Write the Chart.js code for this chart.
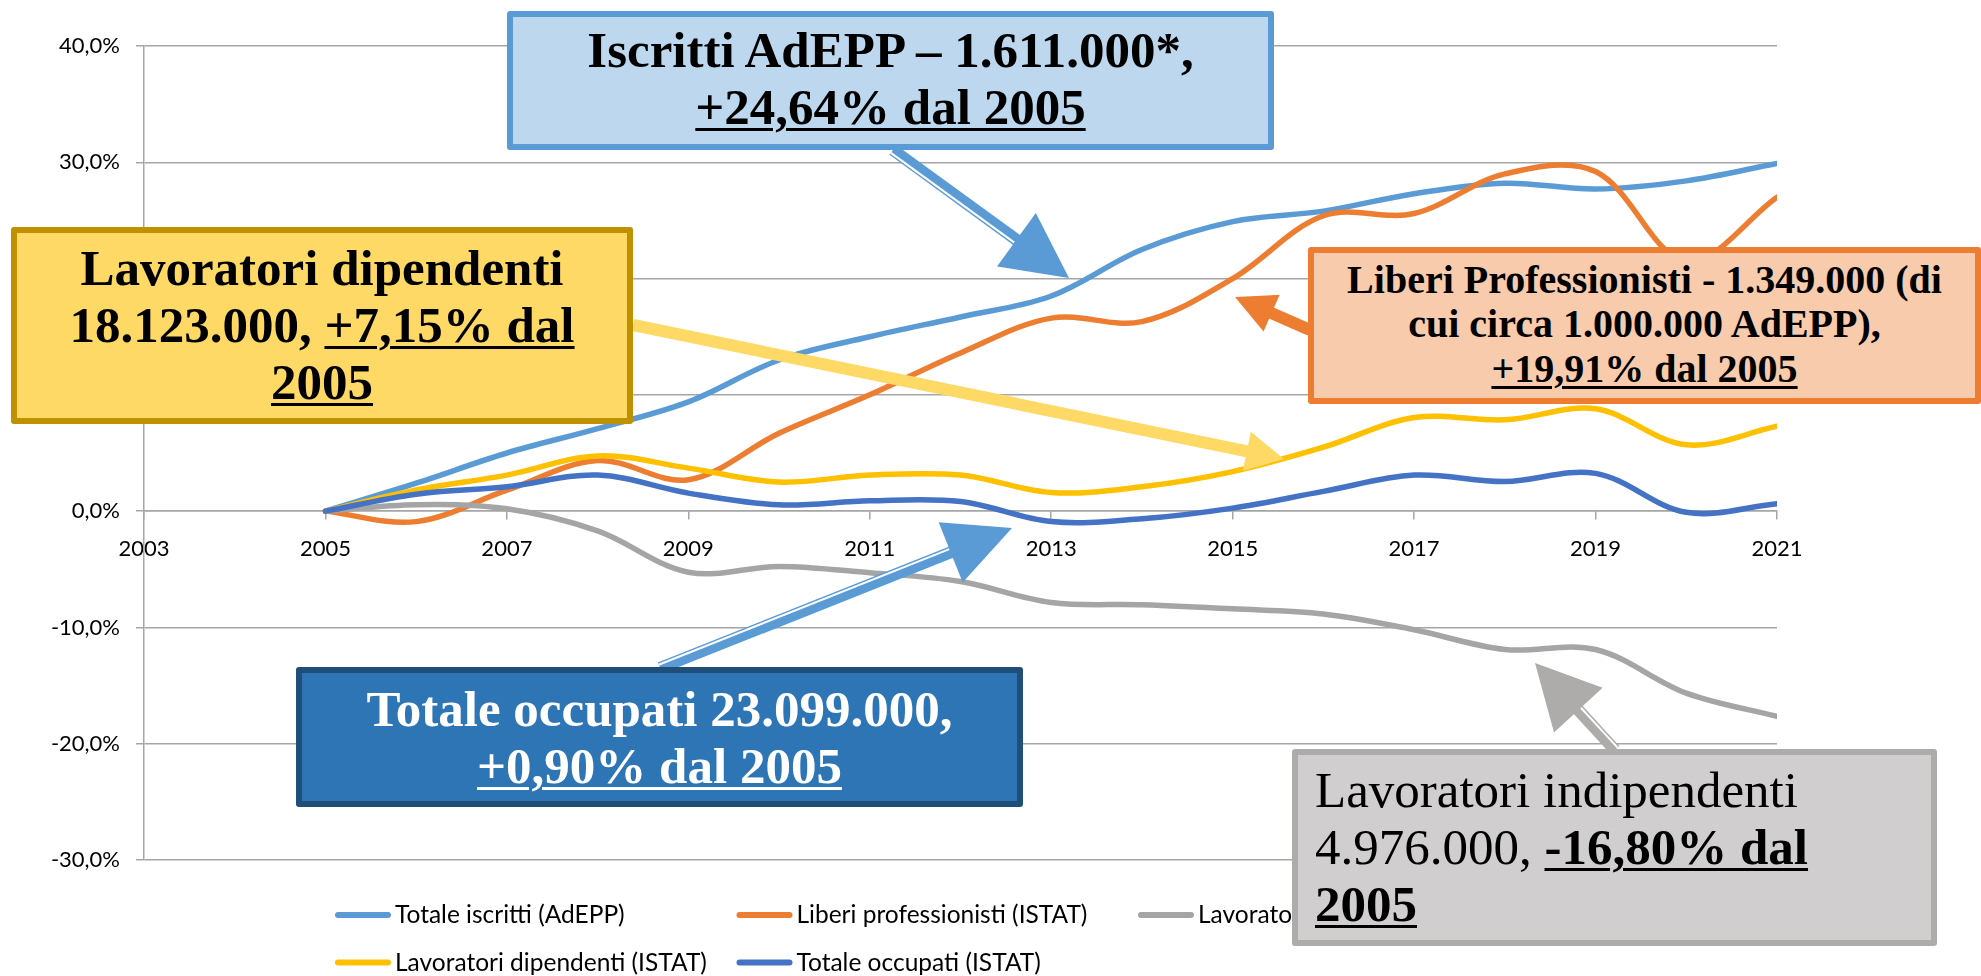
<!DOCTYPE html>
<html>
<head>
<meta charset="utf-8">
<script src="https://cdn.jsdelivr.net/npm/chart.js@4.4.1/dist/chart.umd.min.js"></script>
<style>
html,body{margin:0;padding:0;background:#fff;overflow:hidden;}
#wrap{position:relative;width:1981px;height:976px;}
#c{position:absolute;left:0;top:0;}
#arrows{position:absolute;left:0;top:0;}
.box{position:absolute;box-sizing:border-box;border:6px solid;border-radius:3px;
  font-family:"Liberation Serif","Times New Roman",serif;font-weight:bold;color:#000;
  white-space:nowrap;text-align:center;font-size:51px;line-height:57px;}
.box u{text-decoration-thickness:3px;text-underline-offset:4px;}
#b1{left:507px;top:11px;width:767px;height:139px;background:#BDD7EE;border-color:#5B9BD5;padding-top:5px;}
#b2{left:11px;top:227px;width:622px;height:197px;background:#FFD966;border-color:#BF9000;padding-top:7px;}
#b3{left:1308px;top:247px;width:673px;height:157px;background:#F8CBAD;border-color:#ED7D31;padding-top:5px;font-size:40px;line-height:44.3px;}
#b4{left:296px;top:667px;width:727px;height:140px;background:#2E75B6;border-color:#1F4E79;padding-top:8px;color:#fff;}
#b5{left:1292px;top:749px;width:645px;height:197px;background:#D0CECE;border-color:#AEABAB;padding-top:7px;padding-left:17px;text-align:left;}
#b5 .r{font-weight:normal;}
</style>
</head>
<body>
<div id="wrap">
  <canvas id="c" width="1981" height="976"></canvas>
  <svg id="arrows" width="1981" height="976" xmlns="http://www.w3.org/2000/svg"></svg>
  <div class="box" id="b1">Iscritti AdEPP – 1.611.000*,<br><u>+24,64% dal 2005</u></div>
  <div class="box" id="b2">Lavoratori dipendenti<br>18.123.000, <u>+7,15% dal</u><br><u>2005</u></div>
  <div class="box" id="b3">Liberi Professionisti - 1.349.000 (di<br>cui circa 1.000.000 AdEPP),<br><u>+19,91% dal 2005</u></div>
  <div class="box" id="b4">Totale occupati 23.099.000,<br><u>+0,90% dal 2005</u></div>
  <div class="box" id="b5"><span class="r">Lavoratori indipendenti</span><br><span class="r">4.976.000, </span><u>-16,80% dal</u><br><u>2005</u></div>
</div>
<script>
// ---- DATA ----
const years = [2005, 2006, 2007, 2008, 2009, 2010, 2011, 2012, 2013, 2014, 2015, 2016, 2017, 2018, 2019, 2020, 2021];
const seriesNames = [
  'Totale iscritti (AdEPP)',
  'Liberi professionisti (ISTAT)',
  'Lavoratori indipendenti (ISTAT)',
  'Lavoratori dipendenti (ISTAT)',
  'Totale occupati (ISTAT)'
];
const totaleIscritti = [0, 2.4, 5.0, 7.1, 9.4, 13.0, 15.0, 16.7, 18.5, 22.5, 24.9, 25.8, 27.3, 28.2, 27.7, 28.4, 29.9];
const liberiProfessionisti = [0, -0.9, 1.8, 4.35, 2.7, 6.7, 10.0, 13.6, 16.6, 16.3, 20.0, 25.4, 25.6, 29.0, 29.2, 21.5, 27.0];
const lavoratoriIndipendenti = [0, 0.55, 0.2, -1.7, -5.25, -4.75, -5.3, -6.05, -7.85, -8.05, -8.4, -8.85, -10.2, -11.9, -11.9, -15.65, -17.65];
const lavoratoriDipendenti = [0, 1.83, 3.1, 4.75, 3.7, 2.5, 3.1, 3.1, 1.6, 2.1, 3.4, 5.5, 8.05, 7.85, 8.8, 5.7, 7.3];
const totaleOccupati = [0, 1.46, 2.1, 3.1, 1.55, 0.54, 0.89, 0.83, -0.9, -0.66, 0.26, 1.7, 3.1, 2.55, 3.25, -0.1, 0.63];
const xTickMin = 2003, xTickMax = 2021, xTickStep = 2;
const yTickMin = -30, yTickMax = 40, yTickStep = 10;

const seriesValues = [totaleIscritti, liberiProfessionisti, lavoratoriIndipendenti, lavoratoriDipendenti, totaleOccupati];
const seriesColors = ['#5B9BD5', '#ED7D31', '#A5A5A5', '#FFC000', '#4472C4'];

const TICK_FONT = { family: 'Lato', size: 22 };
const GRID = '#A6A6A6';

const excelLegend = {
  id: 'excelLegend',
  afterDraw(chart) {
    const ctx = chart.ctx;
    ctx.save();
    ctx.font = '24.5px Lato';
    ctx.textBaseline = 'alphabetic';
    ctx.textAlign = 'left';
    chart.data.datasets.forEach((ds, i) => {
      const col = i % 3, row = Math.floor(i / 3);
      const x = 335 + col * 401.5;
      const y = 923 + row * 47.5;
      ctx.strokeStyle = ds.borderColor;
      ctx.lineWidth = 6;
      ctx.lineCap = 'round';
      ctx.beginPath();
      ctx.moveTo(x + 3, y - 8);
      ctx.lineTo(x + 53, y - 8);
      ctx.stroke();
      ctx.fillStyle = '#000';
      ctx.fillText(ds.label, x + 60, y);
    });
    ctx.restore();
  }
};

function buildChart() {
  const datasets = seriesNames.map((name, i) => ({
    label: name,
    data: years.map((yr, k) => ({ x: yr, y: seriesValues[i][k] })),
    borderColor: seriesColors[i],
    backgroundColor: seriesColors[i],
    borderWidth: 5.5,
    pointRadius: 0,
    tension: 0.35,
    fill: false,
    borderCapStyle: 'round',
    borderJoinStyle: 'round',
    order: seriesNames.length - i
  }));

  new Chart(document.getElementById('c'), {
    type: 'line',
    data: { datasets },
    plugins: [excelLegend],
    options: {
      responsive: false,
      animation: false,
      events: [],
      layout: { padding: { left: 0, right: 204, top: 46, bottom: 116 } },
      plugins: { legend: { display: false }, tooltip: { enabled: false }, title: { display: false } },
      scales: {
        x: {
          type: 'linear',
          position: { y: 0 },
          min: xTickMin, max: xTickMax,
          ticks: { stepSize: xTickStep, callback: v => String(v), font: TICK_FONT, color: '#000', padding: 17, maxRotation: 0, autoSkip: false },
          grid: { drawOnChartArea: false, drawTicks: true, tickLength: 8, color: GRID, lineWidth: 1.5 },
          border: { display: true, color: GRID, width: 1.5 },
          afterFit: s => { s.height = 0; }
        },
        y: {
          type: 'linear',
          position: 'left',
          min: yTickMin, max: yTickMax,
          ticks: { stepSize: yTickStep, callback: v => Number(v).toFixed(1).replace('.', ',') + '%', font: TICK_FONT, color: '#000', padding: 16 },
          grid: { color: GRID, lineWidth: 1.5, tickLength: 8 },
          border: { color: GRID, width: 1.5 },
          afterFit: s => { s.width = 144; }
        }
      }
    }
  });
}

// ---- callout arrows (annotation overlay) ----
function drawArrow(svg, a) {
  const NS = 'http://www.w3.org/2000/svg';
  const dx = a.tx - a.sx, dy = a.ty - a.sy;
  const L = Math.hypot(dx, dy);
  const ux = dx / L, uy = dy / L;
  const nx = -uy, ny = ux;
  const bx = a.tx - ux * a.headLen, by = a.ty - uy * a.headLen;
  const ex = bx + ux * 3, ey = by + uy * 3;
  const line = (x1, y1, x2, y2, w, c) => {
    const l = document.createElementNS(NS, 'line');
    l.setAttribute('x1', x1); l.setAttribute('y1', y1);
    l.setAttribute('x2', x2); l.setAttribute('y2', y2);
    l.setAttribute('stroke', c); l.setAttribute('stroke-width', w);
    svg.appendChild(l);
  };
  line(a.sx, a.sy, ex, ey, a.shaft, a.color);
  if (a.compound) {
    const o = (a.shaft / 2 - 2.5) * a.thinSide;
    line(a.sx + nx * o, a.sy + ny * o, bx + nx * o, by + ny * o, 2, '#fff');
  }
  const p = document.createElementNS(NS, 'polygon');
  const hw = a.headW / 2;
  p.setAttribute('points', [
    [a.tx, a.ty],
    [bx + nx * hw, by + ny * hw],
    [bx - nx * hw, by - ny * hw]
  ].map(q => q.join(',')).join(' '));
  p.setAttribute('fill', a.color);
  svg.appendChild(p);
}

const arrowsSpec = [
  { sx: 893, sy: 150, tx: 1069, ty: 278, color: '#5B9BD5', shaft: 12, headLen: 65, headW: 66, compound: true, thinSide: 1 },
  { sx: 633, sy: 325, tx: 1284, ty: 459, color: '#FFD966', shaft: 12, headLen: 38, headW: 40, compound: false },
  { sx: 1310, sy: 330, tx: 1235, ty: 297, color: '#ED7D31', shaft: 12, headLen: 40, headW: 40, compound: false },
  { sx: 660, sy: 668, tx: 1012, ty: 528, color: '#5B9BD5', shaft: 12, headLen: 66, headW: 65, compound: true, thinSide: -1 },
  { sx: 1615, sy: 750, tx: 1535, ty: 663, color: '#AEABAB', shaft: 12, headLen: 64, headW: 66, compound: true, thinSide: 1 }
];

const svg = document.getElementById('arrows');
arrowsSpec.forEach(a => drawArrow(svg, a));

let built = false;
function go() { if (!built) { built = true; buildChart(); } }
if (document.fonts && document.fonts.load) {
  Promise.all([document.fonts.load('22px Lato'), document.fonts.load('24px Lato')]).then(go, go);
  setTimeout(go, 1500);
} else { go(); }
</script>
</body>
</html>
